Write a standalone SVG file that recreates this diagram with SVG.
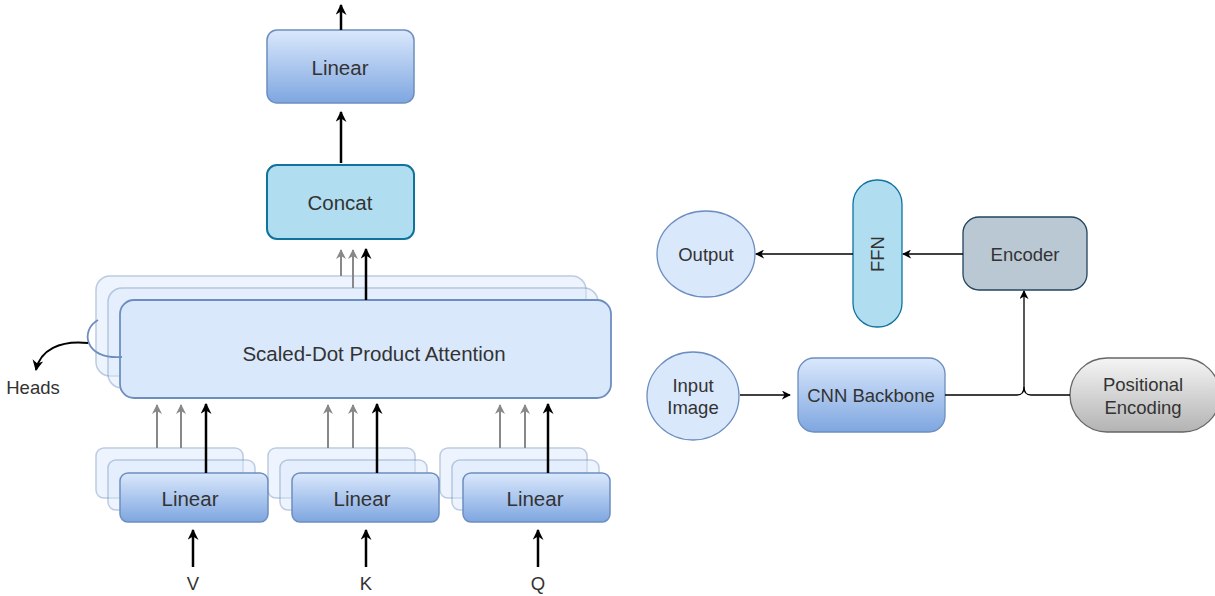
<svg xmlns="http://www.w3.org/2000/svg" width="1215" height="596" viewBox="0 0 1215 596">
<defs>
<linearGradient id="gb" x1="0" y1="0" x2="0" y2="1"><stop offset="0" stop-color="#dae8fc"/><stop offset="1" stop-color="#7ea6e0"/></linearGradient>
<linearGradient id="gg" x1="0" y1="0" x2="0" y2="1"><stop offset="0" stop-color="#f5f5f5"/><stop offset="1" stop-color="#b3b3b3"/></linearGradient>
<marker id="ah" viewBox="0 0 10 10" refX="9" refY="5" markerWidth="11" markerHeight="11" markerUnits="userSpaceOnUse" orient="auto"><path d="M0,0 L10,5 L0,10 L3,5 Z" fill="#000"/></marker>
<marker id="ahg" viewBox="0 0 10 10" refX="9" refY="5" markerWidth="10" markerHeight="10" markerUnits="userSpaceOnUse" orient="auto"><path d="M0,0 L10,5 L0,10 L3,5 Z" fill="#888"/></marker>
<marker id="ahs" viewBox="0 0 10 10" refX="9" refY="5" markerWidth="9" markerHeight="9" markerUnits="userSpaceOnUse" orient="auto"><path d="M0,0 L10,5 L0,10 L3,5 Z" fill="#000"/></marker>
</defs>
<style>
text{font-family:"Liberation Sans",Arial,sans-serif;font-size:20.5px;fill:#333;text-anchor:middle;dominant-baseline:central}
.r text{font-size:18.5px}
.lin{fill:url(#gb);stroke:#6c8ebf;stroke-width:1.5}
.back{fill:#dae8fc;stroke:#6c8ebf;stroke-width:1.5;opacity:0.45}
.att{fill:#dae8fc;stroke:#6c8ebf;stroke-width:1.8}
.c{fill:none;stroke:#000;stroke-width:2.5}
.cg{fill:none;stroke:#888;stroke-width:2}
.ct{fill:none;stroke:#000;stroke-width:1.3}
</style>
<rect width="1215" height="596" fill="#fff"/>

<g id="linear-top"><rect class="lin" x="267" y="30" width="147" height="73" rx="10"/><text x="340" y="67">Linear</text></g>
<g id="concat"><rect x="267" y="165" width="147" height="74" rx="10" fill="#b1ddf0" stroke="#10739e" stroke-width="2"/><text x="340" y="202">Concat</text></g>

<g id="attention">
<rect class="back" x="96" y="276" width="490" height="100" rx="14"/>
<rect class="back" x="108" y="288" width="490" height="100" rx="14"/>
<rect class="att" x="120" y="300" width="491" height="98" rx="14"/>
<path d="M98,320 C80,330 84,360 122,357" fill="none" stroke="#6c8ebf" stroke-width="1.8"/>
<text x="374" y="353">Scaled-Dot Product Attention</text>
</g>

<g id="heads" class="r"><text x="33" y="387">Heads</text></g>

<g id="linear-v">
<rect class="back" x="96" y="448" width="147" height="50" rx="8"/>
<rect class="back" x="108" y="460" width="147" height="50" rx="8"/>
<rect class="lin" x="120" y="473" width="148" height="49" rx="8"/>
<text x="190" y="498">Linear</text>
</g>
<g id="linear-k">
<rect class="back" x="268" y="448" width="147" height="50" rx="8"/>
<rect class="back" x="280" y="460" width="147" height="50" rx="8"/>
<rect class="lin" x="292" y="473" width="147" height="49" rx="8"/>
<text x="362" y="498">Linear</text>
</g>
<g id="linear-q">
<rect class="back" x="440" y="448" width="147" height="50" rx="8"/>
<rect class="back" x="452" y="460" width="147" height="50" rx="8"/>
<rect class="lin" x="463" y="473" width="147" height="49" rx="8"/>
<text x="535" y="498">Linear</text>
</g>

<g id="label-v" class="r"><text x="193" y="583">V</text></g>
<g id="label-k" class="r"><text x="366" y="583">K</text></g>
<g id="label-q" class="r"><text x="538" y="583">Q</text></g>

<g id="output" class="r"><ellipse cx="706" cy="254" rx="49" ry="43" fill="#dae8fc" stroke="#6c8ebf" stroke-width="1.3"/><text x="706" y="254">Output</text></g>
<g id="ffn" class="r"><rect x="853" y="180" width="49" height="147" rx="24" fill="#b1ddf0" stroke="#10739e" stroke-width="1.3"/><text x="877" y="254" transform="rotate(-90 877 254)">FFN</text></g>
<g id="encoder" class="r"><rect x="963" y="217" width="124" height="73" rx="16" fill="#bac8d3" stroke="#23445d" stroke-width="1.3"/><text x="1025" y="254">Encoder</text></g>
<g id="input-image" class="r"><ellipse cx="693" cy="396" rx="46" ry="44" fill="#dae8fc" stroke="#6c8ebf" stroke-width="1.3"/><text x="693" y="385">Input</text><text x="693" y="407">Image</text></g>
<g id="cnn" class="r"><rect class="lin" x="798" y="358" width="147" height="74" rx="16" style="stroke-width:1.3"/><text x="871" y="395">CNN Backbone</text></g>
<g id="pos-enc" class="r"><rect x="1070" y="358" width="150" height="74" rx="37" fill="url(#gg)" stroke="#666" stroke-width="1.3"/><text x="1143" y="384">Positional</text><text x="1143" y="407">Encoding</text></g>

<g id="connectors">
<path class="c" d="M341,30 V5" marker-end="url(#ah)"/>
<path class="c" d="M341,163 V112" marker-end="url(#ah)"/>
<path class="cg" d="M341,276 V250" marker-end="url(#ahg)"/>
<path class="cg" d="M353,288 V250" marker-end="url(#ahg)"/>
<path class="c" d="M366,300 V249" marker-end="url(#ah)"/>
<path d="M88,343 C60,340 40,350 36,370" fill="none" stroke="#000" stroke-width="2" marker-end="url(#ah)"/>
<path class="cg" d="M157,448 V405" marker-end="url(#ahg)"/>
<path class="cg" d="M181,448 V405" marker-end="url(#ahg)"/>
<path class="c" d="M206,473 V404" marker-end="url(#ah)"/>
<path class="cg" d="M328,448 V405" marker-end="url(#ahg)"/>
<path class="cg" d="M353,448 V405" marker-end="url(#ahg)"/>
<path class="c" d="M377,473 V404" marker-end="url(#ah)"/>
<path class="cg" d="M500,448 V405" marker-end="url(#ahg)"/>
<path class="cg" d="M525,448 V405" marker-end="url(#ahg)"/>
<path class="c" d="M548,473 V404" marker-end="url(#ah)"/>
<path class="c" d="M193,567 V530" marker-end="url(#ah)"/>
<path class="c" d="M366,567 V530" marker-end="url(#ah)"/>
<path class="c" d="M538,567 V530" marker-end="url(#ah)"/>
<path class="ct" d="M963,254 H903" marker-end="url(#ahs)"/>
<path class="ct" d="M853,254 H756" marker-end="url(#ahs)"/>
<path class="ct" d="M740,395 H790" marker-end="url(#ahs)"/>
<path class="ct" d="M945,395 H1017 Q1024,395 1024,387 V291" marker-end="url(#ahs)"/>
<path class="ct" d="M1070,395 H1031 Q1024,395 1024,387"/>
</g>
</svg>
